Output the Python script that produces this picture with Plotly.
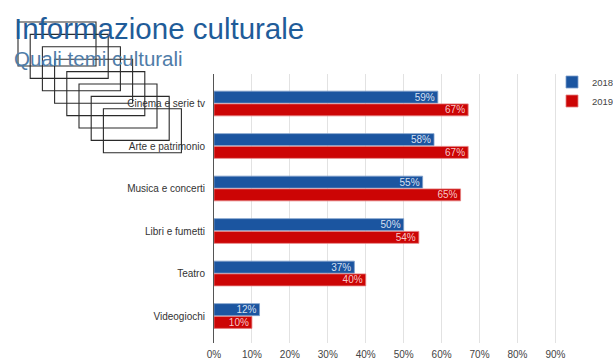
import plotly.graph_objects as go

categories = ["Cinema e serie tv", "Arte e patrimonio", "Musica e concerti",
              "Libri e fumetti", "Teatro", "Videogiochi"]
values_2018 = [59, 58, 55, 50, 37, 12]
values_2019 = [67, 67, 65, 54, 40, 10]
x_ticks = [0, 10, 20, 30, 40, 50, 60, 70, 80, 90]

W, H = 613, 361
ML, MR, MT, MB = 214, 50, 74, 18
PW, PH = W - ML - MR, H - MT - MB


def px_x(x):
    return (x - ML) / PW


def px_y(y):
    return 1 - (y - MT) / PH


fig = go.Figure()
fig.add_trace(go.Bar(
    name="2018", y=categories, x=values_2018, orientation="h",
    marker=dict(color="#1b55a0", line=dict(color="#7f9fcb", width=0.8)),
    text=[f"{v}%" for v in values_2018], textposition="inside",
    insidetextanchor="end", constraintext="none",
    textfont=dict(color="rgba(225,235,248,0.95)", size=10, family="Liberation Sans"),
))
fig.add_trace(go.Bar(
    name="2019", y=categories, x=values_2019, orientation="h",
    marker=dict(color="#cc0505", line=dict(color="#e58080", width=0.8)),
    text=[f"{v}%" for v in values_2019], textposition="inside",
    insidetextanchor="end", constraintext="none",
    textfont=dict(color="rgba(250,215,215,0.95)", size=10, family="Liberation Sans"),
))

# overlapping outline boxes in the header area
shapes = []
for i in range(8):
    left = 18 + 12.2 * i
    top = 22 + 12.4 * i
    shapes.append(dict(
        type="rect", xref="paper", yref="paper",
        x0=px_x(left), x1=px_x(left + 78),
        y0=px_y(top), y1=px_y(top + 44),
        line=dict(color="#2a2a2a", width=1.1), layer="above",
    ))

fig.update_layout(
    width=W, height=H,
    margin=dict(l=ML, r=MR, t=MT, b=MB, autoexpand=False),
    paper_bgcolor="white", plot_bgcolor="white",
    barmode="group", bargap=0.4, bargroupgap=0.06,
    font=dict(family="Liberation Sans", color="#333333"),
    showlegend=True,
    legend=dict(x=px_x(552), y=px_y(67.5), xanchor="left", yanchor="top",
                font=dict(size=9.5, color="#444444"), bgcolor="rgba(0,0,0,0)",
                tracegroupgap=0),
    xaxis=dict(range=[0, 92], tickvals=x_ticks,
               ticktext=[f"{t}%" for t in x_ticks],
               showgrid=True, gridcolor="#e2e2e2", gridwidth=1,
               zeroline=False, showline=False,
               tickfont=dict(size=10, color="#444444"), ticks="", ticklabelstandoff=4),
    yaxis=dict(categoryorder="array", categoryarray=categories,
               range=[5.635, -0.694], showgrid=False, zeroline=False,
               showline=True, linecolor="#555555", linewidth=1,
               tickfont=dict(size=10, color="#333333"), ticks="",
               ticklabelstandoff=6),
    shapes=shapes,
    annotations=[
        dict(text="Informazione culturale", xref="paper", yref="paper",
             x=px_x(12), y=px_y(28), xanchor="left", yanchor="middle",
             showarrow=False, font=dict(size=29.5, color="#1f5c99",
                                        family="Liberation Sans")),
        dict(text="Quali temi culturali", xref="paper", yref="paper",
             x=px_x(12), y=px_y(59), xanchor="left", yanchor="middle",
             showarrow=False, font=dict(size=20.5, color="#4f7ca8",
                                        family="Liberation Sans")),
    ],
)

fig.write_html("out.html")
